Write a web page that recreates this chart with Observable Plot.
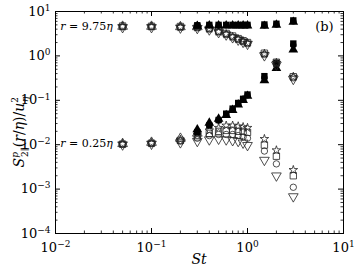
<!DOCTYPE html>
<html><head><meta charset="utf-8">
<script src="https://cdn.jsdelivr.net/npm/d3@7"></script>
<script src="https://cdn.jsdelivr.net/npm/@observablehq/plot@0.6"></script>
<style>body{margin:0;background:#fff;} #chart svg{display:block;}</style>
</head><body><div id="chart"></div>
<script>
// ---- data ----
const St = [0.05, 0.1, 0.2, 0.3, 0.4, 0.5, 0.6, 0.7, 0.8, 0.9, 1.0, 1.5, 2.0, 3.0];
const StLow = [0.05, 0.1, 0.2, 0.3];
const StFilled = [0.3, 0.4, 0.5, 0.6, 0.7, 0.8, 0.9, 1.0, 1.5, 2.0, 3.0];

// r = 9.75 eta, open symbols
const farSquare = [4.7, 4.65, 4.6, 4.5, 4.2, 3.6, 3.2, 2.8, 2.45, 2.2, 2.0, 1.15, 0.72, 0.34];
const farStar   = [4.6, 4.6, 4.5, 4.4, 4.1, 3.5, 3.1, 2.7, 2.4, 2.15, 1.95, 1.12, 0.7, 0.34];
const farCircle = [4.5, 4.5, 4.4, 4.3, 4.0, 3.45, 3.05, 2.65, 2.35, 2.1, 1.9, 1.08, 0.67, 0.32];
const farTriDown= [4.4, 4.4, 4.3, 4.2, 3.9, 3.4, 3.0, 2.6, 2.3, 2.05, 1.85, 1.02, 0.63, 0.3];
const farTriUp  = [4.6, 4.6, 4.5, 4.5];
// r = 9.75 eta, filled symbols
const farFSquare = [4.9, 5.0, 5.0, 5.0, 5.0, 5.0, 5.0, 5.0, 5.1, 5.3, 6.3];
const farFCircle = [4.8, 4.9, 4.9, 4.9, 4.9, 4.9, 4.9, 4.9, 4.9, 5.1, 6.0];
const farFTri    = [4.7, 4.8, 4.8, 4.8, 4.8, 4.8, 4.8, 4.8, 4.7, 5.0, 5.8];

// r = 0.25 eta, open symbols
const nearStar    = [0.0105, 0.011, 0.013, 0.017, 0.021, 0.024, 0.027, 0.027, 0.026, 0.025, 0.024, 0.0135, 0.0075, 0.0027];
const nearSquare  = [0.0103, 0.0108, 0.0125, 0.015, 0.018, 0.02, 0.021, 0.021, 0.02, 0.02, 0.019, 0.0098, 0.0055, 0.002];
const nearCircle  = [0.0102, 0.0106, 0.012, 0.014, 0.016, 0.017, 0.017, 0.017, 0.016, 0.015, 0.014, 0.0072, 0.0037, 0.0011];
const nearTriDown = [0.01, 0.0104, 0.0112, 0.012, 0.013, 0.0135, 0.013, 0.0125, 0.012, 0.011, 0.0097, 0.0045, 0.002, 0.00068];
const nearTriUp   = [0.0105, 0.0112, 0.0138, 0.018];
// r = 0.25 eta, filled symbols
const nearFSquare = [0.019, 0.027, 0.036, 0.05, 0.065, 0.087, 0.108, 0.135, 0.35, 0.7, 1.9];
const nearFCircle = [0.02, 0.028, 0.035, 0.048, 0.062, 0.083, 0.104, 0.13, 0.32, 0.62, 1.75];
const nearFTri    = [0.022, 0.031, 0.038, 0.046, 0.06, 0.08, 0.1, 0.125, 0.28, 0.53, 1.38];

const xMajor = [0.01, 0.1, 1, 10];
const yMajor = [1e-4, 1e-3, 1e-2, 1e-1, 1, 10];
const rLabels = [{val: "9.75", St: 0.04, v: 4.6}, {val: "0.25", St: 0.04, v: 0.0103}];
const panelLabel = "(b)";

// ---- layout ----
const W = 360, H = 268, mL = 55, mR = 17, mT = 11, mB = 35;
const pw = W - mL - mR, ph = H - mT - mB;
const FONT = "DejaVu Serif";

function minors(majors) {
  const out = [];
  for (let i = 0; i < majors.length - 1; i++)
    for (let k = 2; k <= 9; k++) out.push(majors[i] * k);
  return out;
}
const xMinor = minors(xMajor), yMinor = minors(yMajor);

const triDown = {
  draw(ctx, size) {
    const y = -Math.sqrt(size / (3 * Math.sqrt(3)));
    ctx.moveTo(0, -y * 2);
    ctx.lineTo(-Math.sqrt(3) * y, y);
    ctx.lineTo(Math.sqrt(3) * y, y);
    ctx.closePath();
  }
};

const R = 3.6;
const radius = sym => sym === "star" ? 2.7 : (sym === "circle" ? 3.2 : R);
const openDots = (xs, ys, sym) => Plot.dot(d3.zip(xs, ys), {
  x: d => d[0], y: d => d[1], symbol: sym, r: radius(sym), fill: "none", stroke: "#222", strokeWidth: 0.8
});
const filledDots = (xs, ys, sym) => Plot.dot(d3.zip(xs, ys), {
  x: d => d[0], y: d => d[1], symbol: sym, r: radius(sym), fill: "#000", stroke: "none"
});
const fmt = d => "10^" + Math.round(Math.log10(d));

const plot = Plot.plot({
  width: W, height: H,
  marginLeft: mL, marginRight: mR, marginTop: mT, marginBottom: mB,
  style: {fontFamily: FONT, fontSize: "13px", background: "#fff", color: "#000"},
  x: {type: "log", domain: [0.01, 10]},
  y: {type: "log", domain: [1e-4, 10]},
  marks: [
    // inside ticks
    Plot.ruleX(xMajor, {insetTop: ph - 5, stroke: "#000"}),
    Plot.ruleX(xMajor, {insetBottom: ph - 5, stroke: "#000"}),
    Plot.ruleX(xMinor, {insetTop: ph - 2.5, stroke: "#000", strokeWidth: 0.8}),
    Plot.ruleX(xMinor, {insetBottom: ph - 2.5, stroke: "#000", strokeWidth: 0.8}),
    Plot.ruleY(yMajor, {insetRight: pw - 5, stroke: "#000"}),
    Plot.ruleY(yMajor, {insetLeft: pw - 5, stroke: "#000"}),
    Plot.ruleY(yMinor, {insetRight: pw - 2.5, stroke: "#000", strokeWidth: 0.8}),
    Plot.ruleY(yMinor, {insetLeft: pw - 2.5, stroke: "#000", strokeWidth: 0.8}),
    Plot.axisX({ticks: xMajor, tickSize: 0, tickPadding: 9, tickFormat: fmt, label: null}),
    Plot.axisY({ticks: yMajor, tickSize: 0, tickPadding: 5, tickFormat: fmt, label: null}),
    // r = 0.25 eta
    openDots(St, nearTriDown, triDown),
    openDots(St, nearCircle, "circle"),
    openDots(St, nearSquare, "square"),
    openDots(St, nearStar, "star"),
    openDots(StLow, nearTriUp, "triangle"),
    filledDots(StFilled, nearFTri, "triangle"),
    filledDots(StFilled, nearFCircle, "circle"),
    filledDots(StFilled, nearFSquare, "square"),
    // r = 9.75 eta
    openDots(St, farTriDown, triDown),
    openDots(St, farCircle, "circle"),
    openDots(St, farSquare, "square"),
    openDots(St, farStar, "star"),
    openDots(StLow, farTriUp, "triangle"),
    filledDots(StFilled, farFTri, "triangle"),
    filledDots(StFilled, farFCircle, "circle"),
    filledDots(StFilled, farFSquare, "square"),
    Plot.frame({stroke: "#000", strokeWidth: 1})
  ]
});

const svg = d3.select(plot);
// superscript exponents for tick labels
svg.selectAll("text").each(function() {
  const t = this.textContent;
  const m = /^10\^(-?\d+)$/.exec(t);
  if (!m) return;
  const sel = d3.select(this);
  sel.text("10");
  sel.append("tspan").attr("font-size", "9px").attr("dy", "-0.55em")
     .text(m[1].replace("-", "\u2212"));
});

const xs = plot.scale("x"), ys = plot.scale("y");
// r labels
for (const L of rLabels) {
  const t = svg.append("text").attr("x", xs.apply(L.St)).attr("y", ys.apply(L.v))
    .attr("text-anchor", "end").attr("dy", "0.35em")
    .attr("font-family", FONT).attr("font-size", "11px");
  t.append("tspan").attr("font-style", "italic").text("r");
  t.append("tspan").text(" = " + L.val);
  t.append("tspan").attr("font-style", "italic").text("\u03b7");
}
// panel label
svg.append("text").attr("x", xs.apply(8)).attr("y", ys.apply(4.4)).attr("dy", "0.35em")
  .attr("text-anchor", "end").attr("font-family", FONT).attr("font-size", "13px").text(panelLabel);
// x label
svg.append("text").attr("x", mL + pw / 2).attr("y", H - 4).attr("text-anchor", "middle")
  .attr("font-family", FONT).attr("font-size", "14px").attr("font-style", "italic").text("St");
// y label
const yl = svg.append("text").attr("transform", `translate(24,${mT + ph / 2 + 10}) rotate(-90)`)
  .attr("text-anchor", "middle").attr("font-family", FONT).attr("font-size", "14px").attr("font-style", "italic");
yl.append("tspan").text("S");
yl.append("tspan").attr("font-size", "9px").attr("dy", "-6").text("p");
yl.append("tspan").attr("font-size", "9px").attr("font-style", "normal").attr("dx", "-5").attr("dy", "10").text("2\u2225");
yl.append("tspan").attr("dy", "-4").attr("font-style", "normal").text("(");
yl.append("tspan").text("r");
yl.append("tspan").attr("font-style", "normal").text("/");
yl.append("tspan").text("\u03b7");
yl.append("tspan").attr("font-style", "normal").text(")/");
yl.append("tspan").text("u");
yl.append("tspan").attr("font-size", "9px").attr("font-style", "normal").attr("dy", "-6").text("2");
yl.append("tspan").attr("font-size", "9px").attr("dx", "-5").attr("dy", "10").text("\u03b7");

document.getElementById("chart").append(plot);
</script>
</body></html>
